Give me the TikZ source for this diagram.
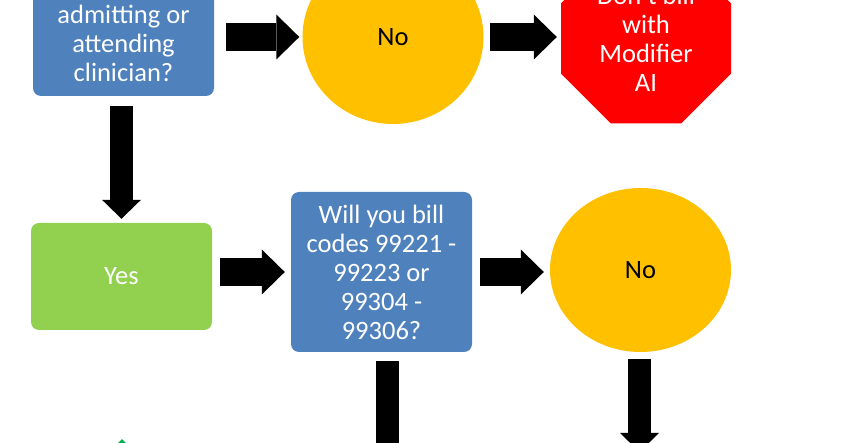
\documentclass[tikz,border=0pt]{standalone}
\usepackage{fontspec}
\setmainfont{Carlito}
\usetikzlibrary{arrows.meta,shapes.geometric}

\definecolor{boxblue}{HTML}{4F81BD}
\definecolor{yesgreen}{HTML}{92D050}
\definecolor{nextgreen}{HTML}{00B050}
\definecolor{noyellow}{HTML}{FFC000}
\definecolor{stopred}{HTML}{FF0000}

\begin{document}
\begin{tikzpicture}[
  x=1pt, y=-1pt,
  every node/.style={
    align=center,
    inner sep=0pt,
    font=\fontsize{26.5}{29}\selectfont,
  },
  question node/.style={
    rectangle,
    rounded corners=8pt,
    fill=boxblue,
    text=white,
    minimum width=181pt,
  },
  yes node/.style={
    question node,
    fill=yesgreen,
  },
  no node/.style={
    ellipse,
    fill=noyellow,
    text=black,
    minimum width=181pt,
  },
  stop node/.style={
    regular polygon,
    regular polygon sides=8,
    fill=stopred,
    text=white,
    minimum size=184pt,
  },
  hflow/.style={draw,line width=28pt,-{Triangle[length=23pt,width=45pt,line width=0pt]}},
  vflow/.style={draw,line width=23pt,-{Triangle[length=19pt,width=39pt,line width=0pt]}},
  ]
  \useasboundingbox (0,0) rectangle (844,443);
  \clip (0,0) rectangle (844,443);
  \node[question node,minimum height=105pt] (q-clinician) at (123.5,43.5)
    {admitting or\\attending\\clinician?};
  \node[no node,minimum height=174pt]       (no-clinician)  at (393,37)  {No};
  \node[stop node]                          (stop-modifier) at (646,38.5)
    {Don't bill\\with\\Modifier\\AI};
  \node[yes node,minimum height=107pt]      (ans-yes)       at (121.5,276.5) {Yes};
  \node[question node,minimum height=160pt] (q-codes)       at (381.5,272)
    {Will you bill\\codes 99221 -\\99223 or\\99304 -\\99306?};
  \node[no node,minimum height=164pt]       (no-codes)      at (640.5,270) {No};
  \node[diamond,fill=nextgreen,minimum size=160pt] (yes-next) at (122,519) {};
  \coordinate (codes-next) at (387,470);
  \coordinate (no-next)    at (639.5,452);
  \begin{scope}
    \path[hflow,shorten <=12pt,shorten >=3pt] (q-clinician.east |- no-clinician) -- (no-clinician.west);
    \path[hflow,shorten <=6pt,shorten >=4pt] (no-clinician.east) -- (no-clinician.east -| stop-modifier.west);
    \path[vflow,shorten <=10pt,shorten >=4pt] (q-clinician.south -| ans-yes) -- (ans-yes.north);
    \path[hflow,shorten <=8pt,shorten >=6pt] (ans-yes.east |- q-codes) -- (q-codes.west);
    \path[hflow,shorten <=8pt,shorten >=6pt] (q-codes.east) -- (q-codes.east -| no-codes.west);
    \path[vflow,shorten <=9pt] (q-codes.south -| codes-next) -- (codes-next);
    \path[vflow,shorten <=7pt] (no-codes.south -| no-next) -- (no-next);
  \end{scope}
\end{tikzpicture}
\end{document}
